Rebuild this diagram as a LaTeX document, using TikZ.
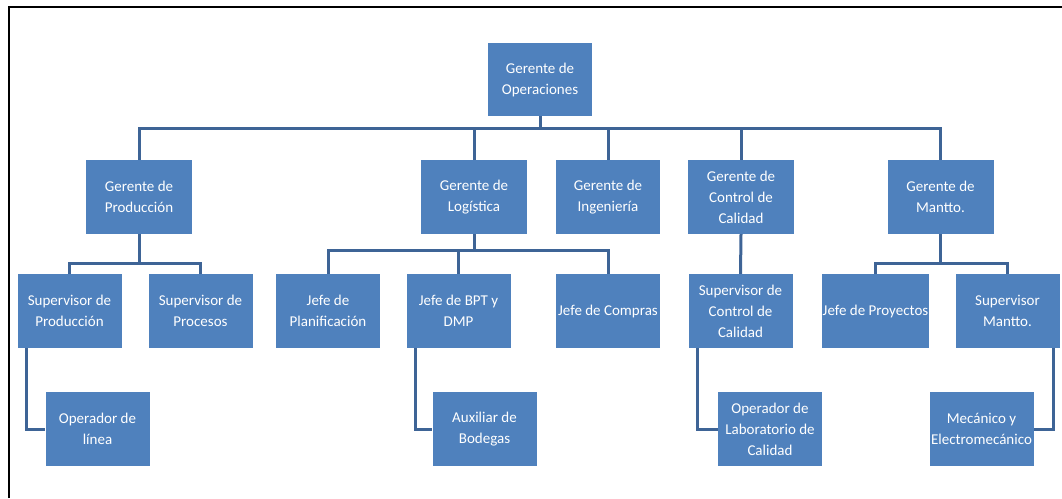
\documentclass[tikz,border=0pt]{standalone}
\usepackage{fontspec}
\setmainfont{Carlito}
\definecolor{boxblue}{RGB}{79,129,189}
\definecolor{linkblue}{RGB}{62,100,150}
\tikzset{
  orgbox/.style={rectangle, fill=boxblue, minimum width=104pt, minimum height=74pt,
    inner sep=1pt, text=white, align=center, font=\fontsize{15}{21}\selectfont},
  conn/.style={draw=linkblue, line width=3pt},
  frameline/.style={draw=black, line width=2.5pt}
}
\begin{document}
\begin{tikzpicture}[x=1pt,y=-1pt]
\useasboundingbox (0,0) rectangle (1062,498);
\draw[frameline] (9,498) -- (9,7) -- (1062,7);

% level 1
\node[orgbox, minimum height=73pt] (op) at (540,79.5) {Gerente de\\Operaciones};
% level 2
\node[orgbox, minimum width=106pt] (prod) at (139,197) {Gerente de\\Producción};
\node[orgbox, minimum width=106pt] (log) at (474,197) {Gerente de\\Logística};
\node[orgbox] (ing) at (608,197) {Gerente de\\Ingeniería};
\node[orgbox, minimum width=106pt] (cc) at (741,197) {Gerente de\\Control de\\Calidad};
\node[orgbox, minimum width=106pt] (mant) at (940.5,197) {Gerente de\\Mantto.};
% level 3
\node[orgbox] (supprod) at (69.5,311) {Supervisor de\\Producción};
\node[orgbox] (supproc) at (200.5,311) {Supervisor de\\Procesos};
\node[orgbox] (plan) at (328,311) {Jefe de\\Planificación};
\node[orgbox] (bpt) at (458.5,311) {Jefe de BPT y\\DMP};
\node[orgbox] (compras) at (608,311) {Jefe de Compras};
\node[orgbox] (supcc) at (740.5,311) {Supervisor de\\Control de\\Calidad};
\node[orgbox] (proy) at (875.5,311) {Jefe de Proyectos};
\node[orgbox] (supmant) at (1007.5,311) {Supervisor\\Mantto.};
% level 4
\node[orgbox] (oplinea) at (97.5,429) {Operador de\\línea};
\node[orgbox] (aux) at (484.5,429) {Auxiliar de\\Bodegas};
\node[orgbox] (oplab) at (770,429) {Operador de\\Laboratorio de\\Calidad};
\node[orgbox] (mec) at (981.5,429) {Mecánico y\\Electromecánico};

% level 1 -> 2
\draw[conn] (op.south) -- ++(0,12) coordinate (bus);
\draw[conn] (bus) -| (prod.north);
\draw[conn] (bus) -| (log.north);
\draw[conn] (bus) -| (ing.north);
\draw[conn] (bus) -| (cc.north);
\draw[conn] (bus) -| (mant.north);

% level 2 -> 3
\draw[conn] (prod.south) -- ++(0,29) -| (supprod.north);
\draw[conn] (prod.south) -- ++(0,29) -| (supproc.north);
\draw[conn] (log.south) -- ++(0,16) -| (plan.north);
\draw[conn] (log.south) -- ++(0,16) -| (bpt.north);
\draw[conn] (log.south) -- ++(0,16) -| (compras.north);
\draw[conn] (cc.south) -- (supcc.north);
\draw[conn] (mant.south) -- ++(0,29) -| (proy.north);
\draw[conn] (mant.south) -- ++(0,29) -| (supmant.north);

% level 3 -> 4
\draw[conn] ([xshift=9pt]supprod.south west) |- (oplinea.west);
\draw[conn] ([xshift=9pt]bpt.south west) |- (aux.west);
\draw[conn] ([xshift=9pt]supcc.south west) |- (oplab.west);
\draw[conn] ([xshift=-6pt]supmant.south east) |- (mec.east);
\end{tikzpicture}
\end{document}
